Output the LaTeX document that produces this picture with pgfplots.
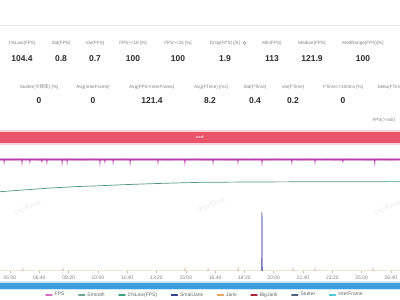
\documentclass[border=0pt]{standalone}
\usepackage{pgfplots}
\pgfplotsset{compat=1.18}
\usepackage{fontspec}
\setmainfont{Liberation Sans}
\newfontfamily\cjk{Noto Sans CJK SC}
\definecolor{lbl}{RGB}{130,130,130}
\definecolor{val}{RGB}{45,45,45}
\definecolor{fpsc}{RGB}{185,60,175}
\definecolor{smoothc}{RGB}{110,165,150}
\definecolor{lowc}{RGB}{60,160,130}
\definecolor{smalljc}{RGB}{55,70,140}
\definecolor{jankc}{RGB}{225,165,100}
\definecolor{bigjc}{RGB}{165,40,60}
\definecolor{stutc}{RGB}{80,100,120}
\definecolor{interc}{RGB}{80,200,215}
\definecolor{basec}{RGB}{212,185,150}
\definecolor{spikec}{RGB}{120,120,190}
\definecolor{redbar}{RGB}{232,84,106}
\definecolor{bluebar}{RGB}{60,158,222}
\newcommand{\lab}[3]{\node[font=\fontsize{4.6}{5}\selectfont,text=lbl] at (#1pt,#2pt) {#3};}
\newcommand{\val}[3]{\node[font=\fontsize{8.5}{9}\selectfont\bfseries,text=val] at (#1pt,#2pt) {#3};}
\begin{document}
\begin{tikzpicture}[x=1pt,y=1pt]
\clip (0,0) rectangle (400,300);
\fill[white] (0,0) rectangle (400,300);
\draw[gray!15, line width=0.6pt] (0,275) -- (400,275);
% row 1
\lab{22}{257}{1\%Low(FPS)} \val{22}{241}{104.4}
\lab{61}{257}{Std(FPS)} \val{61}{241}{0.8}
\lab{95}{257}{Var(FPS)} \val{95}{241}{0.7}
\lab{133}{257}{FPS>=18 [\%]} \val{133}{241}{100}
\lab{178}{257}{FPS>=25 [\%]} \val{178}{241}{100}
\lab{225}{257}{Drop(FPS) [/h]} \val{225}{241}{1.9}
\draw[lbl, line width=0.3pt] (244.5pt,257pt) circle (1.6pt);
\node[font=\fontsize{2.6}{3}\selectfont,text=lbl,inner sep=0pt] at (244.5pt,257pt) {i};
\lab{272}{257}{Min(FPS)} \val{272}{241}{113}
\lab{312}{257}{Median(FPS)} \val{312}{241}{121.9}
\lab{363}{257}{MedRange(FPS)[\%]} \val{363}{241}{100}
% row 2
\lab{39}{213}{Stutter({\cjk 卡顿率}) [\%]} \val{39}{199}{0}
\lab{93}{213}{Avg(InterFrame)} \val{93}{199}{0}
\lab{152}{213}{Avg(FPS+InterFrame)} \val{152}{199}{121.4}
\lab{211}{213}{Avg(FTime) [ms]} \val{210}{199}{8.2}
\lab{255}{213}{Std(FTime)} \val{255}{199}{0.4}
\lab{293}{213}{Var(FTime)} \val{293}{199}{0.2}
\lab{343}{213}{FTime>=100ms [\%]} \val{343}{199}{0}
\node[font=\fontsize{4.6}{5}\selectfont,text=lbl,anchor=west] at (374pt,213pt) {Delta(FTime) [ms]};
\node[font=\fontsize{4.6}{5}\selectfont,text=lbl,anchor=west] at (369pt,180pt) {FPS(>=60)};
% red bar
\fill[redbar!25] (0,155) rectangle (400,170);
\fill[redbar] (0,157) rectangle (400,168);
\node[font=\fontsize{3.8}{4}\selectfont,text=white] at (200pt,162.5pt) {start!};
% blue bar
\fill[bluebar!25] (0,9.5) rectangle (400,18.5);
\fill[bluebar] (0,11) rectangle (400,17);
% watermarks
\foreach \px/\py in {28/92, 212/95, 388/92}
  \node[rotate=25,text=gray!10,font=\fontsize{7}{8}\selectfont\bfseries] at (\px pt,\py pt) {PerfDog};
\begin{axis}[
  at={(0pt,29pt)}, anchor=south west,
  width=400pt, height=121pt, scale only axis,
  xmin=266, xmax=1631, ymin=0, ymax=132,
  axis line style={draw=none},
  ytick=\empty,
  xtick={300,400,...,1600},
  xticklabels={05:00,06:40,08:20,10:00,11:40,13:20,15:00,16:40,18:20,20:00,21:40,23:20,25:00,26:40},
  xtick pos=bottom, tick align=outside,
  major tick length=2pt,
  x tick style={basec, line width=0.5pt},
  xticklabel style={font=\fontsize{5}{6}\selectfont, text=lbl, yshift=0.5pt},
  legend style={at={(0.5125,-0.198)}, anchor=center, draw=none, fill=none,
    legend columns=-1, font=\fontsize{5}{6}\selectfont, text=lbl!80!black,
    /tikz/every even column/.append style={column sep=11.5pt},
    inner sep=0pt, cells={anchor=west}},
  legend image code/.code={\draw[#1, line width=1.5pt, line cap=round] (0pt,0pt) -- (6pt,0pt);},
]
% Jank baseline
\addplot[basec, line width=0.8pt, forget plot] coordinates {
(266,0)(343,0)(344,2)(345,0)(480,0)(481,2)(482,0)(896,0)(897,2)(898,0)(975,0)(976,2)(977,0)
(1078,0)(1079,2)(1080,0)(1265,0)(1266,2)(1267,0)(1340,0)(1341,2)(1342,0)(1538,0)(1539,2)(1540,0)(1631,0)};
% smooth line
\addplot[lowc!70!gray, line width=0.7pt, forget plot] coordinates {
(266,86.5)(350,88.5)(437,90.5)(520,92)(607,93)(690,94.2)(778,95.2)(860,96)(948,96.7)(1120,97.1)(1290,97.3)(1460,97.4)(1631,97.5)};
% spike
\addplot[spikec, line width=1pt, forget plot] coordinates {(1159,0)(1160,64)(1161,0)};
% FPS (pink halo + main line)
\addplot[fpsc!45!white, line width=2.2pt, forget plot] coordinates {(266,121.6)(1631,121.6)};
\addplot[fpsc, line width=0.9pt, forget plot] coordinates {
(266,121.6)(279,121.7)(280,119)(281,121.6)(310,121.5)(330,121.8)(340,121.6)(341,118.5)(342,121.6)
(367,121.7)(368,119.5)(369,121.7)(400,121.5)(408,121.6)(409,118.5)(410,121.8)(425,121.7)(426,119)(427,121.6)
(455,121.7)(477,121.6)(478,118.5)(479,121.5)(494,121.6)(495,119)(496,121.8)(530,121.6)(555,121.5)(580,121.8)
(606,121.6)(607,118.5)(608,121.6)(623,121.7)(624,119.5)(625,121.7)(651,121.6)(652,119)(653,121.6)(685,121.8)
(709,121.6)(710,118.5)(711,121.5)(745,121.7)(770,121.6)(804,121.6)(805,119)(806,121.8)(840,121.5)(865,121.7)
(896,121.6)(897,118.5)(898,121.6)(930,121.8)(960,121.5)(992,121.6)(993,119)(994,121.7)(1030,121.6)(1055,121.5)
(1077,121.6)(1078,119)(1079,121.8)(1110,121.6)(1135,121.7)(1159,121.6)(1160,118.5)(1161,121.5)(1200,121.8)(1230,121.6)
(1261,121.6)(1262,119)(1263,121.7)(1300,121.5)(1320,121.8)(1340,121.6)(1341,119)(1342,121.6)(1380,121.7)(1410,121.5)
(1435,121.6)(1436,118.5)(1437,121.8)(1470,121.6)(1500,121.7)(1520,121.5)(1544,121.6)(1545,118.5)(1546,121.6)(1580,121.8)(1605,121.5)(1631,121.7)};
\addlegendimage{fpsc!60!pink}\addlegendentry{FPS}
\addlegendimage{smoothc}\addlegendentry{Smooth}
\addlegendimage{lowc}\addlegendentry{1\%Low(FPS)}
\addlegendimage{smalljc}\addlegendentry{SmallJank}
\addlegendimage{jankc}\addlegendentry{Jank}
\addlegendimage{bigjc}\addlegendentry{BigJank}
\addlegendimage{stutc}\addlegendentry{Stutter}
\addlegendimage{interc}\addlegendentry{InterFrame}
\end{axis}
\end{tikzpicture}
\end{document}
